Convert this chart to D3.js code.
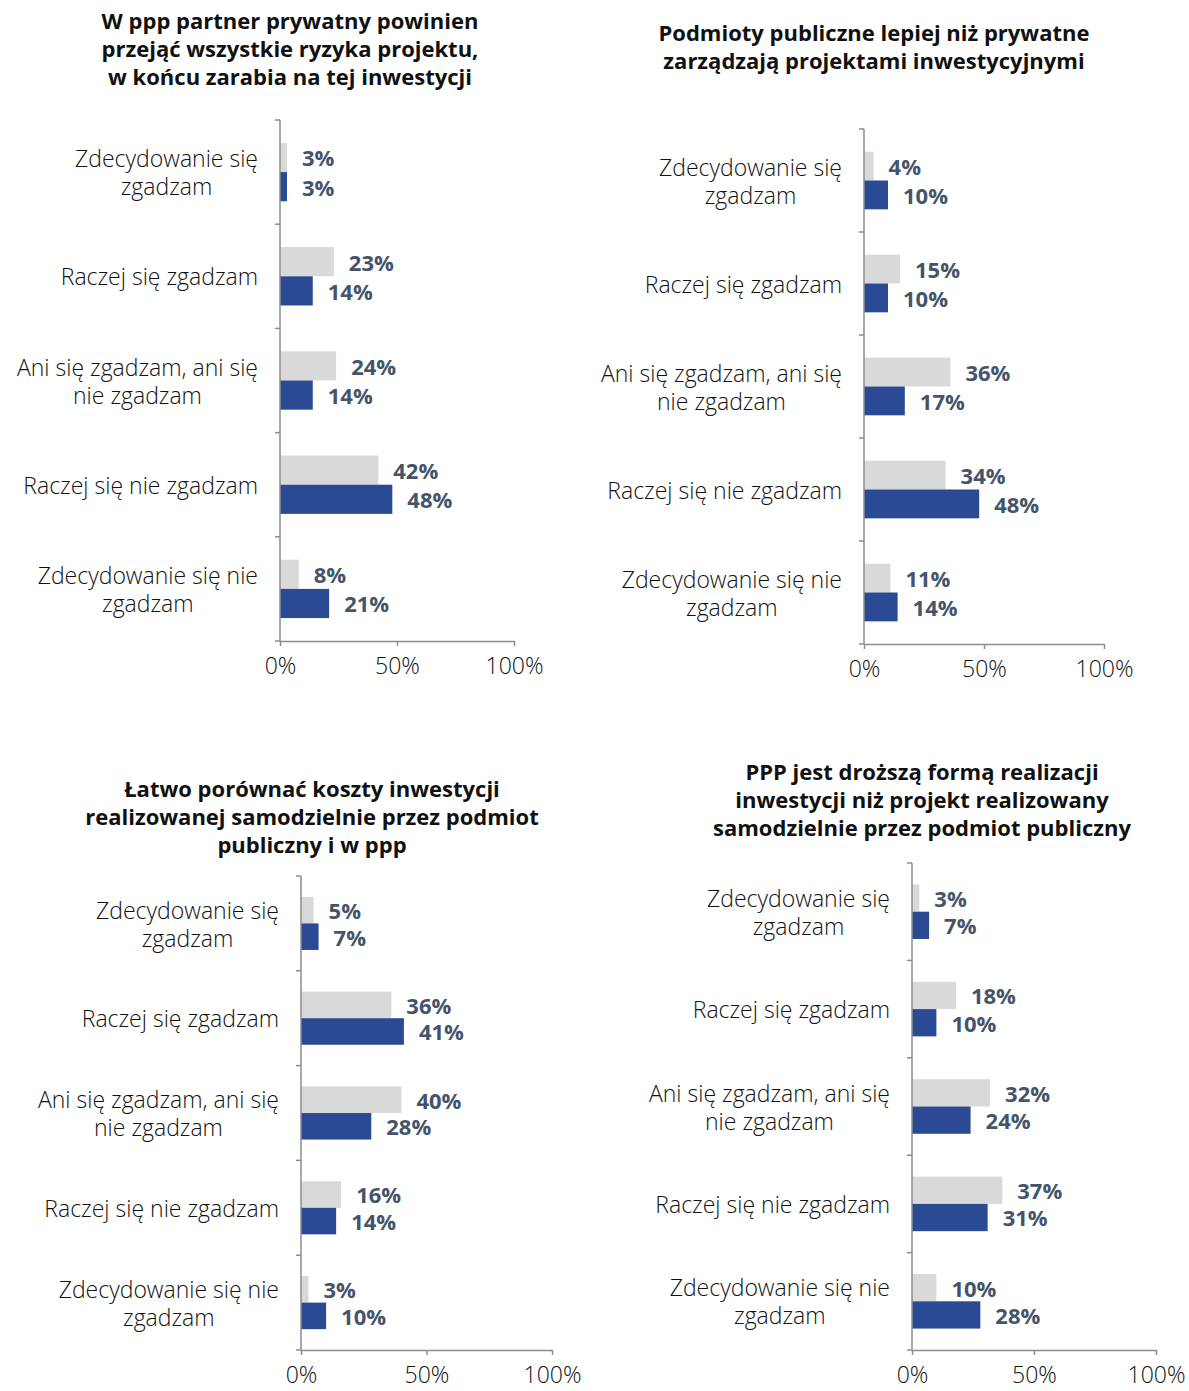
<!DOCTYPE html>
<html>
<head>
<meta charset="utf-8">
<script src="https://cdn.jsdelivr.net/npm/d3@7"></script>
<style>
  html, body { margin: 0; padding: 0; background: #ffffff; }
  svg { display: block; }
  text { font-family: "Open Sans", "Noto Sans", sans-serif; }
</style>
</head>
<body>
<svg id="chart" width="1189" height="1391"></svg>
<script>
// Answer categories (each entry is split into display lines)
const categories = [
  "Zdecydowanie się zgadzam",
  "Raczej się zgadzam",
  "Ani się zgadzam, ani się nie zgadzam",
  "Raczej się nie zgadzam",
  "Zdecydowanie się nie zgadzam"
];
const categoryLines = [
  ["Zdecydowanie się", "zgadzam"],
  ["Raczej się zgadzam"],
  ["Ani się zgadzam, ani się", "nie zgadzam"],
  ["Raczej się nie zgadzam"],
  ["Zdecydowanie się nie", "zgadzam"]
];

// Panel titles
const titles = [
  ["W ppp partner prywatny powinien", "przejąć wszystkie ryzyka projektu,", "w końcu zarabia na tej inwestycji"],
  ["Podmioty publiczne lepiej niż prywatne", "zarządzają projektami inwestycyjnymi"],
  ["Łatwo porównać koszty inwestycji", "realizowanej samodzielnie przez podmiot", "publiczny i w ppp"],
  ["PPP jest droższą formą realizacji", "inwestycji niż projekt realizowany", "samodzielnie przez podmiot publiczny"]
];

// Shares in percent: grey series (upper bar) and blue series (lower bar)
const greyValues = [
  [3, 23, 24, 42, 8],
  [4, 15, 36, 34, 11],
  [5, 36, 40, 16, 3],
  [3, 18, 32, 37, 10]
];
const blueValues = [
  [3, 14, 14, 48, 21],
  [10, 10, 17, 48, 14],
  [7, 41, 28, 14, 10],
  [7, 10, 24, 31, 28]
];

// Axis ticks
const tickValues = [0, 50, 100];
const tickLabels = ["0%", "50%", "100%"];

// Panel geometry
const panels = [
  { x0: 280, x1: 514, top: 120, bottom: 641, titleX: 290, titleY: 23 },
  { x0: 864, x1: 1104, top: 129, bottom: 644, titleX: 874, titleY: 35 },
  { x0: 301, x1: 552, top: 876, bottom: 1350, titleX: 312, titleY: 791 },
  { x0: 912, x1: 1156, top: 863, bottom: 1350, titleX: 922, titleY: 774 }
];

const colors = { grey: "#d9d9d9", blue: "#2b4a94", value: "#44546a", axis: "#8c8c8c", text: "#111111" };
const fontFamily = "'Open Sans', 'Noto Sans', sans-serif";

const svg = d3.select("#chart");

panels.forEach((p, i) => {
  const g = svg.append("g");
  const x = d3.scaleLinear().domain([0, 100]).range([p.x0, p.x1]);
  const y = d3.scaleBand().domain(categories).range([p.top, p.bottom]).padding(0);
  const bw = y.bandwidth();
  const barH = bw * 0.28;

  // Title
  g.append("text")
    .attr("x", p.titleX)
    .attr("text-anchor", "middle")
    .attr("font-size", 22)
    .attr("font-weight", 700)
    .attr("fill", colors.text)
    .selectAll("tspan")
    .data(titles[i])
    .join("tspan")
    .attr("x", p.titleX)
    .attr("y", (d, k) => p.titleY + k * 28)
    .attr("dominant-baseline", "middle")
    .text(d => d);

  // Bars
  const rows = categories.map((c, k) => ({ c, grey: greyValues[i][k], blue: blueValues[i][k] }));

  g.selectAll("rect.grey").data(rows).join("rect")
    .attr("class", "grey")
    .attr("x", x(0))
    .attr("y", d => y(d.c) + bw / 2 - barH)
    .attr("width", d => x(d.grey) - x(0))
    .attr("height", barH)
    .attr("fill", colors.grey);

  g.selectAll("rect.blue").data(rows).join("rect")
    .attr("class", "blue")
    .attr("x", x(0))
    .attr("y", d => y(d.c) + bw / 2)
    .attr("width", d => x(d.blue) - x(0))
    .attr("height", barH)
    .attr("fill", colors.blue);

  // Value labels
  g.selectAll("text.vgrey").data(rows).join("text")
    .attr("class", "vgrey")
    .attr("x", d => x(d.grey) + 15)
    .attr("y", d => y(d.c) + bw / 2 - barH / 2 + 3)
    .attr("dominant-baseline", "middle")
    .attr("font-size", 22)
    .attr("font-weight", 700)
    .attr("fill", colors.value)
    .text(d => d.grey + "%");

  g.selectAll("text.vblue").data(rows).join("text")
    .attr("class", "vblue")
    .attr("x", d => x(d.blue) + 15)
    .attr("y", d => y(d.c) + bw / 2 + barH / 2 + 3)
    .attr("dominant-baseline", "middle")
    .attr("font-size", 22)
    .attr("font-weight", 700)
    .attr("fill", colors.value)
    .text(d => d.blue + "%");

  // Category axis: line with ticks at the band boundaries
  const yAxis = g.append("g");
  yAxis.append("line")
    .attr("x1", x(0)).attr("x2", x(0))
    .attr("y1", p.top).attr("y2", p.bottom)
    .attr("stroke", colors.axis).attr("stroke-width", 1.5);
  const bounds = categories.map(c => y(c)).concat([p.bottom]);
  yAxis.selectAll("line.tick").data(bounds).join("line")
    .attr("class", "tick")
    .attr("x1", x(0) - 5).attr("x2", x(0))
    .attr("y1", d => d).attr("y2", d => d)
    .attr("stroke", colors.axis).attr("stroke-width", 1.5);

  // Category labels: block right-aligned to the axis, lines centred within the block
  g.selectAll("text.cat").data(categories).join("text")
    .attr("class", "cat")
    .attr("text-anchor", "middle")
    .attr("font-size", 23)
    .attr("font-weight", 300)
    .attr("fill", colors.text)
    .each(function (c, k) {
      const lines = categoryLines[k];
      const cy = y(c) + bw / 2 + 3;
      const spans = d3.select(this).selectAll("tspan").data(lines).join("tspan")
        .attr("y", (d, j) => cy + (j - (lines.length - 1) / 2) * 28)
        .attr("dominant-baseline", "middle")
        .text(d => d);
      const widest = d3.max(spans.nodes(), n => n.getComputedTextLength());
      spans.attr("x", x(0) - 22 - widest / 2);
    });

  // Value axis
  const xAxis = d3.axisBottom(x)
    .tickValues(tickValues)
    .tickFormat((d, k) => tickLabels[k])
    .tickSizeInner(5)
    .tickSizeOuter(0)
    .tickPadding(12);
  const ax = g.append("g")
    .attr("transform", `translate(0,${p.bottom})`)
    .call(xAxis);
  ax.select(".domain").attr("stroke", colors.axis).attr("stroke-width", 1.5);
  ax.selectAll(".tick line").attr("stroke", colors.axis).attr("stroke-width", 1.5);
  ax.selectAll(".tick text")
    .attr("font-size", 23)
    .attr("font-weight", 300)
    .attr("font-family", fontFamily)
    .attr("fill", colors.text);
});
</script>
</body>
</html>
